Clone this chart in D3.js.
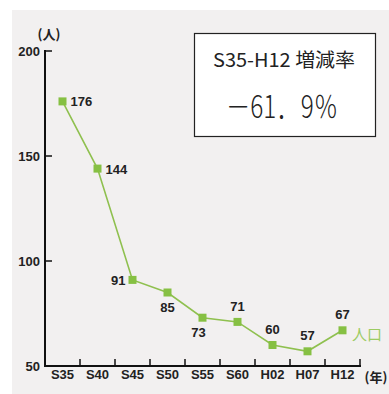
<!DOCTYPE html>
<html>
<head>
<meta charset="utf-8">
<script src="https://cdn.jsdelivr.net/npm/d3@7"></script>
<style>
body{margin:0;background:#fff;}
svg{display:block;}
.num{font-family:"Liberation Sans Narrow","Liberation Sans",Arial,sans-serif;font-weight:bold;font-size:13px;fill:#222;}
</style>
</head>
<body>
<div id="chart"></div>
<script>
var years = ["S35","S40","S45","S50","S55","S60","H02","H07","H12"];
var population = [176,144,91,85,73,71,60,57,67];
var labelSide = ["right","right","left","below","belowleft","above","above","above","above"];
var yTicks = [50,100,150,200];

var w=389, h=394;
var padLeft=45, padRight=360, padTop=51, padBottom=366;

var svg = d3.select("#chart").append("svg")
    .attr("width",w).attr("height",h);

// paper background
svg.append("rect")
    .attr("x",12).attr("y",10)
    .attr("width",w-12).attr("height",h-10)
    .style("fill","#f2f0f0");

var xScale = d3.scaleBand()
    .domain(years)
    .range([padLeft,padRight])
    .padding(0);

var yScale = d3.scaleLinear()
    .domain([50,200])
    .range([padBottom,padTop]);

// x axis, ticks on band edges pointing up
var xAxis = d3.axisBottom(xScale).tickSize(0).tickPadding(6);
var gx = svg.append("g")
    .attr("transform","translate(0,"+padBottom+")")
    .call(xAxis);
gx.select(".domain").remove();
gx.selectAll("text").attr("class","num").attr("dy","0.55em");

svg.append("line")
    .attr("x1",padLeft-1).attr("x2",padRight+1)
    .attr("y1",padBottom).attr("y2",padBottom)
    .style("stroke","#111").style("stroke-width",2);

years.forEach(function(d){
    var xe = xScale(d)+xScale.bandwidth();
    svg.append("line")
        .attr("x1",xe).attr("x2",xe)
        .attr("y1",padBottom).attr("y2",padBottom-7)
        .style("stroke","#111").style("stroke-width",1.5);
});

// y axis
var yAxis = d3.axisLeft(yScale).tickValues(yTicks).tickSize(0).tickPadding(5);
var gy = svg.append("g")
    .attr("transform","translate("+padLeft+",0)")
    .call(yAxis);
gy.select(".domain").remove();
gy.selectAll("text").attr("class","num").attr("dy","0.32em");

svg.append("line")
    .attr("x1",padLeft).attr("x2",padLeft)
    .attr("y1",padTop-1).attr("y2",padBottom)
    .style("stroke","#111").style("stroke-width",2);

yTicks.slice(1).forEach(function(v){
    svg.append("line")
        .attr("x1",padLeft).attr("x2",padLeft+7)
        .attr("y1",yScale(v)).attr("y2",yScale(v))
        .style("stroke","#111").style("stroke-width",1.5);
});

svg.append("text")
    .attr("x",49).attr("y",39)
    .attr("text-anchor","middle")
    .style("font-family","'Noto Sans CJK JP',sans-serif")
    .style("font-weight","bold")
    .style("font-size","13px")
    .style("fill","#222")
    .text("(人)");

svg.append("text")
    .attr("x",376).attr("y",382)
    .attr("text-anchor","middle")
    .style("font-family","'Noto Sans CJK JP',sans-serif")
    .style("font-weight","bold")
    .style("font-size","13px")
    .style("fill","#222")
    .text("(年)");

// line
var cx = function(d,i){return xScale(years[i])+xScale.bandwidth()/2;};
var line = d3.line()
    .x(cx)
    .y(function(d){return yScale(d);});

svg.append("path")
    .datum(population)
    .attr("d",line)
    .style("fill","none")
    .style("stroke","#8fc04f")
    .style("stroke-width",1.6);

svg.selectAll(".pt")
    .data(population)
    .enter().append("rect")
    .attr("class","pt")
    .attr("x",function(d,i){return cx(d,i)-4;})
    .attr("y",function(d){return yScale(d)-4;})
    .attr("width",8).attr("height",8)
    .style("fill","#86c043");

var off = {
    right:[8,5,"start"], left:[-7,5,"end"], below:[0,19,"middle"],
    belowleft:[-4,19,"middle"], above:[0,-11,"middle"]
};
svg.selectAll(".lbl")
    .data(population)
    .enter().append("text")
    .attr("class","num")
    .attr("x",function(d,i){return cx(d,i)+off[labelSide[i]][0];})
    .attr("y",function(d,i){return yScale(d)+off[labelSide[i]][1];})
    .attr("text-anchor",function(d,i){return off[labelSide[i]][2];})
    .text(function(d){return d;});

svg.append("text")
    .attr("x",352).attr("y",340)
    .style("font-family","'Noto Sans CJK JP',sans-serif")
    .style("font-size","15px")
    .style("fill","#9ccb62")
    .text("人口");

// rate box
svg.append("rect")
    .attr("x",194.5).attr("y",33.5)
    .attr("width",181).attr("height",103)
    .style("fill","#fff")
    .style("stroke","#222")
    .style("stroke-width",1.2);

svg.append("text")
    .attr("x",213).attr("y",67)
    .attr("textLength",142)
    .attr("lengthAdjust","spacingAndGlyphs")
    .style("font-family","'Noto Sans CJK JP',sans-serif")
    .style("font-size","19px")
    .style("fill","#222")
    .text("S35-H12 増減率");

svg.append("text")
    .attr("x",226).attr("y",118)
    .attr("textLength",112)
    .attr("lengthAdjust","spacingAndGlyphs")
    .style("font-family","'Noto Sans CJK JP',sans-serif")
    .style("font-weight","300")
    .style("font-size","31px")
    .style("fill","#222")
    .text("－61．9％");
</script>
</body>
</html>
